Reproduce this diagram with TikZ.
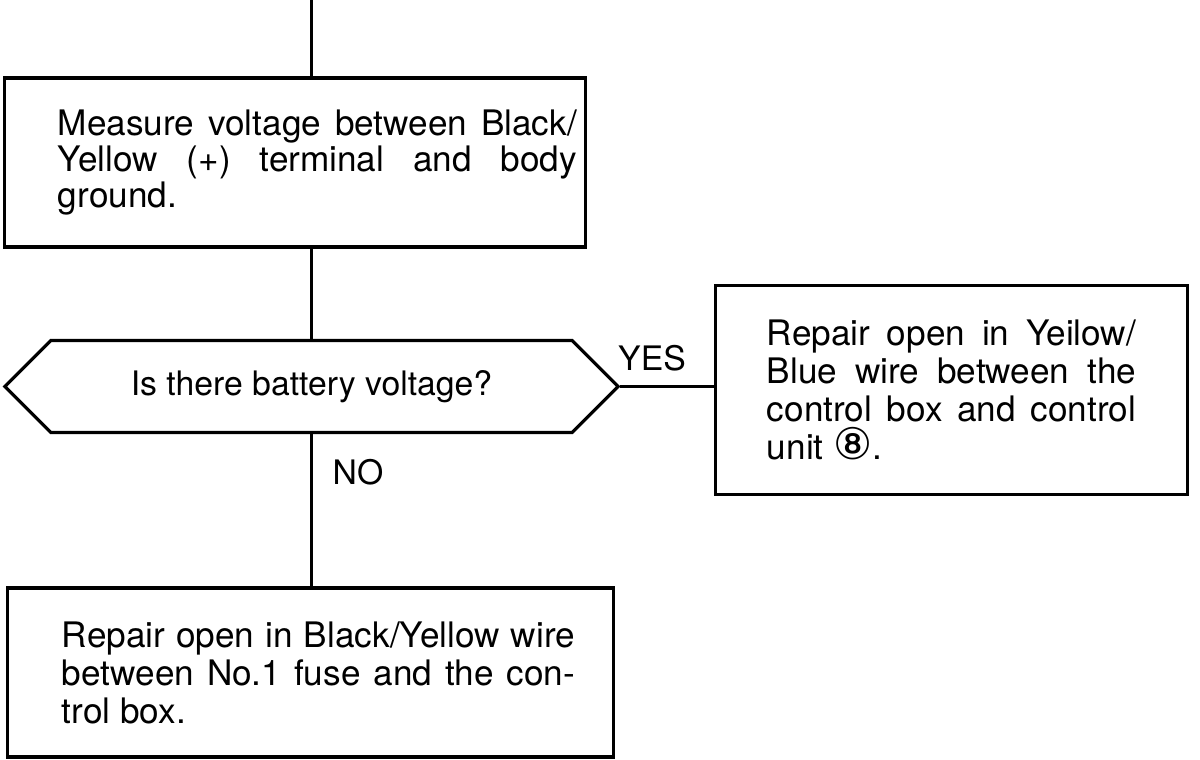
\documentclass[tikz,border=0pt]{standalone}
\usepackage{fontspec}
\setmainfont{TeX Gyre Heros}
\newfontfamily\circfont{DejaVu Sans}
\usepackage{tikz}
\usetikzlibrary{positioning,shapes.symbols}
\definecolor{inkmain}{HTML}{000000}
\tikzset{every node/.append style={font=\fontsize{24}{25.6}\selectfont}}

\begin{document}
\begin{tikzpicture}[x=0.025cm,y=-0.025cm,line width=2.2pt,
  stepbox/.style={draw=inkmain,rectangle,inner sep=0pt,minimum height=4.225cm,
    font=\fontsize{25}{25.8}\selectfont},
  askbox/.style={draw=inkmain,signal,signal to=east and west,signal pointer angle=90,
    minimum width=15.325cm,minimum height=2.3cm,inner sep=0pt},
  lbl/.style={text=inkmain}]
  \useasboundingbox (0,0) rectangle (1200,760);
  \coordinate (top) at (311.5,0);
  % measuring step
  \node[stepbox,minimum width=14.5cm] (meas) at (295,162.5)
    {\hspace*{1.125cm}\parbox{12.975cm}{Measure voltage between Black/\linebreak
     Yellow (+) terminal and body\linebreak ground.}};
  % question
  \node[askbox] (ask) at (311.5,386.5) {Is there battery voltage?};
  \node[lbl] (yes) at (652,358) {YES};
  \node[lbl] (no) at (358,472) {NO};
  % repairs
  \node[stepbox,minimum width=11.775cm,minimum height=5.225cm,text width=9.225cm,
    align=justify,font=\fontsize{25}{27}\selectfont] (fix1) at (951.5,390)
    {Repair open in Yeilow/\linebreak Blue wire between the\linebreak
     control box and control\linebreak unit {\circfont\fontsize{31}{27}\selectfont ⑧}.};
  \node[stepbox,minimum width=15.125cm,font=\fontsize{25}{27}\selectfont] (fix2) at (310.5,672.5)
    {\hspace*{0.4cm}\parbox{12.825cm}{Repair open in Black/Yellow wire\linebreak
     between No.1 fuse and the con-\linebreak trol box.}};
  \draw[inkmain] (top) -- (top |- meas.north);
  \draw[inkmain] (top |- meas.south) -- (ask.north);
  \draw[inkmain] (ask.south) -- (ask.south |- fix2.north);
  \draw[inkmain] (ask.east) -- (ask.east -| fix1.west);
\end{tikzpicture}
\end{document}
